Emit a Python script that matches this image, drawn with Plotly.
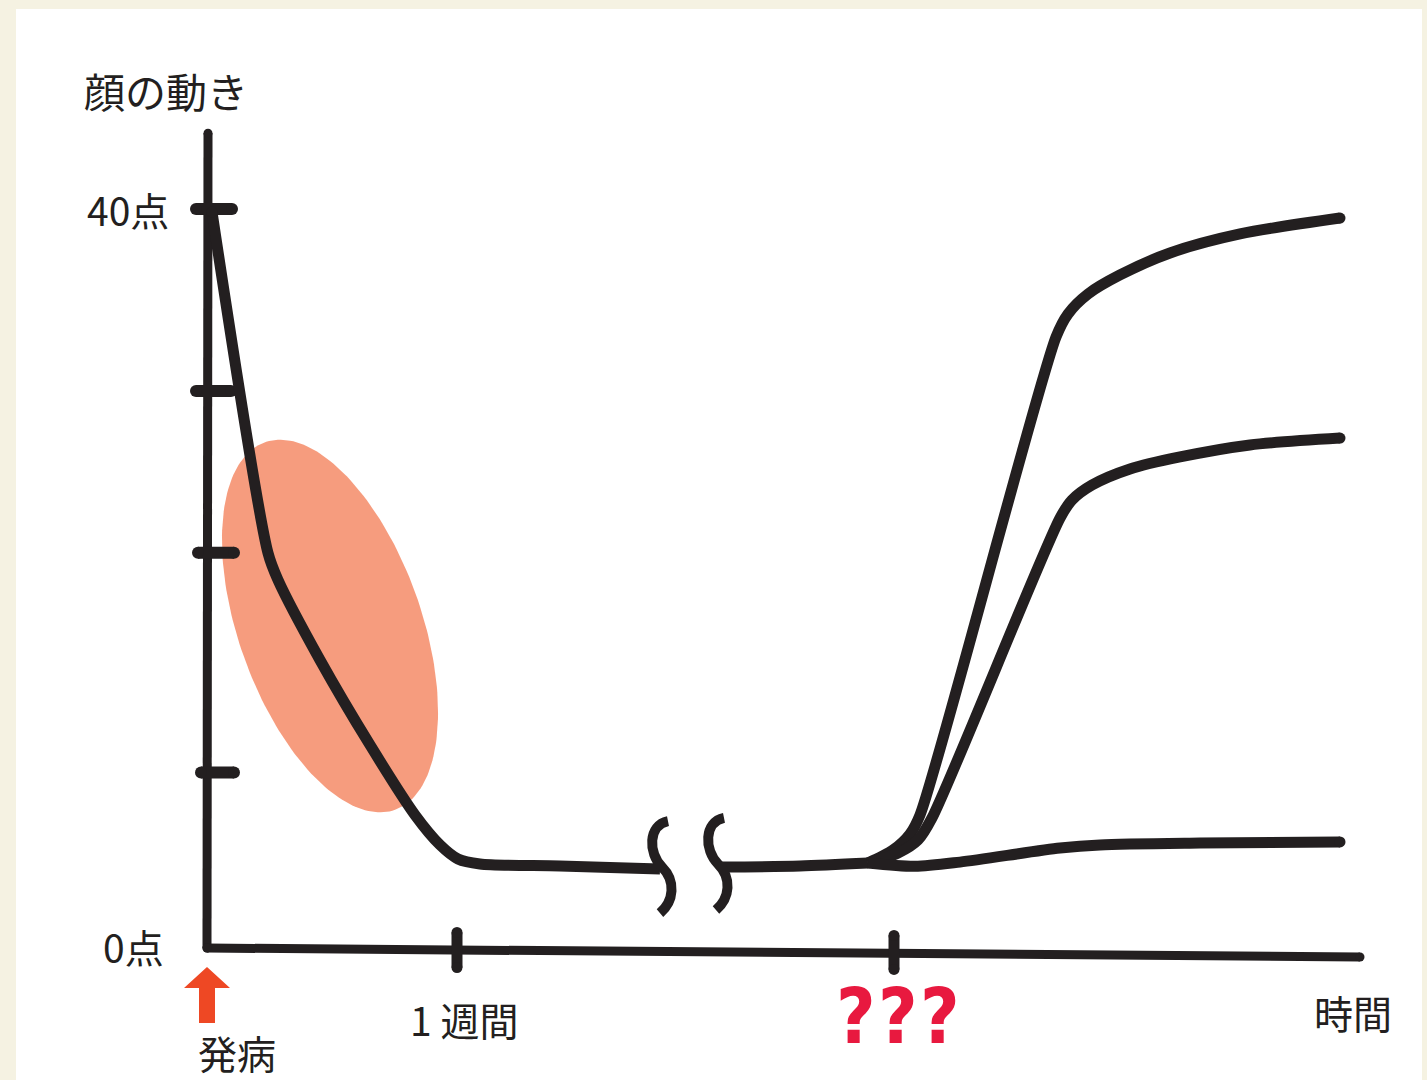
import numpy as np
import plotly.graph_objects as go

# x: time (1 = one week, break after ~1.8), y: facial movement score (0-40)
decline_x = [0.02, 0.244, 0.284, 0.452, 0.652, 0.832, 0.932, 1.004, 1.092, 1.412, 1.812]
decline_y = [39.84, 21.38, 19.92, 15.59, 10.99, 7.20, 5.58, 4.82, 4.55, 4.44, 4.28]

plateau_x = [2.06, 2.372, 2.644]
plateau_y = [4.38, 4.44, 4.60]

good_x = [2.644, 2.744, 2.812, 2.852, 3.396, 3.444, 3.524, 3.652, 3.852, 4.132, 4.532]
good_y = [4.60, 5.30, 6.17, 7.20, 33.07, 34.32, 35.40, 36.43, 37.62, 38.65, 39.51]

partial_x = [2.644, 2.764, 2.844, 2.90, 3.412, 3.46, 3.54, 3.692, 3.892, 4.172, 4.532]
partial_y = [4.60, 5.14, 5.85, 7.04, 23.27, 24.25, 25.06, 25.93, 26.58, 27.23, 27.60]

poor_x = [2.644, 2.832, 3.012, 3.412, 3.572, 3.972, 4.532]
poor_y = [4.60, 4.42, 4.65, 5.41, 5.58, 5.68, 5.74]

# hand-drawn axes
yaxis_x = [0.004, 0.0]
yaxis_y = [44.1, 0.0]
xaxis_x = [0.0, 4.612]
xaxis_y = [0.0, -0.49]

ytick_vals = [40, 30.15, 21.4, 9.5]
ytick_x0 = [-0.044, -0.044, -0.036, -0.024]
ytick_x1 = [0.10, 0.096, 0.108, 0.108]

xtick_vals = [1.0, 2.748]
xtick_y0 = [0.84, 0.68]
xtick_y1 = [-1.06, -1.16]

break_x = [1.82, 2.044]
break_y = [4.38, 4.55]

qmark_x = [2.596, 2.762, 2.93]

INK = "#231F20"
FONT = "Noto Sans CJK JP, Noto Sans, sans-serif"

fig = go.Figure()

# highlighted region (rotated ellipse, built in screen pixels then mapped)
PX_X, PX_Y = 250.0, 18.475
cx, cy, a, b, phi = 330, 626, 195, 91.5, np.radians(19.5)
t = np.linspace(0, 2 * np.pi, 200)
u, v = a * np.cos(t), b * np.sin(t)
ex = cx + u * np.sin(phi) + v * np.cos(phi)
ey = cy + u * np.cos(phi) - v * np.sin(phi)
fig.add_trace(go.Scatter(x=(ex - 207) / PX_X, y=(948 - ey) / PX_Y, mode="lines",
                         fill="toself", fillcolor="#F69C7E", line=dict(width=0),
                         hoverinfo="skip"))

# axes
for xs, ys in [(yaxis_x, yaxis_y), (xaxis_x, xaxis_y)]:
    fig.add_trace(go.Scatter(x=xs, y=ys, mode="lines+markers",
                             line=dict(color=INK, width=9),
                             marker=dict(color=INK, size=9)))

for val, x0, x1 in zip(ytick_vals, ytick_x0, ytick_x1):
    fig.add_trace(go.Scatter(x=[x0, x1], y=[val, val], mode="lines+markers",
                             line=dict(color=INK, width=12),
                             marker=dict(color=INK, size=12)))

for val, y0, y1 in zip(xtick_vals, xtick_y0, xtick_y1):
    fig.add_trace(go.Scatter(x=[val, val], y=[y0, y1], mode="lines+markers",
                             line=dict(color=INK, width=11),
                             marker=dict(color=INK, size=11)))

# curves
for xs, ys in [(decline_x, decline_y), (plateau_x, plateau_y),
               (good_x, good_y), (partial_x, partial_y), (poor_x, poor_y)]:
    fig.add_trace(go.Scatter(x=xs, y=ys, mode="lines",
                             line=dict(color=INK, width=11, shape="spline", smoothing=0.8)))

ends_x = [decline_x[0], good_x[-1], partial_x[-1], poor_x[-1]]
ends_y = [decline_y[0], good_y[-1], partial_y[-1], poor_y[-1]]
fig.add_trace(go.Scatter(x=ends_x, y=ends_y, mode="markers",
                         marker=dict(color=INK, size=11)))

# break marks
for bx, by in zip(break_x, break_y):
    fig.add_shape(type="path", xref="x", yref="y", xsizemode="pixel", ysizemode="pixel",
                  xanchor=bx, yanchor=by,
                  path="M 6,46 C -14,42 -14,14 0,0 C 14,-14 12,-34 -2,-46",
                  line=dict(color=INK, width=10))

# onset arrow
fig.add_shape(type="path", xref="x", yref="y", xsizemode="pixel", ysizemode="pixel",
              xanchor=0.0, yanchor=(948 - 967) / PX_Y,
              path="M 0,0 L 23,-21 L 8,-21 L 8,-56 L -8,-56 L -8,-21 L -23,-21 Z",
              fillcolor="#EE4824", line=dict(width=0))

labels = [
    ("顔の動き", -0.164, 46.44, "center", 41),
    ("40点", -0.146, 40.0, "right", 39),
    ("0点", -0.166, 0.1, "right", 39),
    ("1 週間", 1.028, -3.84, "center", 39),
    ("発病", 0.12, -5.63, "center", 39),
    ("時間", 4.584, -3.46, "center", 39),
]
for txt, x, y, anchor, size in labels:
    fig.add_annotation(x=x, y=y, text=txt, showarrow=False, xanchor=anchor, yanchor="middle",
                       font=dict(family=FONT, size=size, color=INK))

for qx in qmark_x:
    fig.add_annotation(x=qx, y=-3.7, text="?", showarrow=False,
                       font=dict(family="DejaVu Sans Condensed, Liberation Sans Narrow, sans-serif",
                                 size=76, color="#E8193F", weight="bold"))

fig.update_layout(
    width=1427, height=1080,
    margin=dict(l=16, r=5, t=9, b=0),
    paper_bgcolor="#F5F2E2", plot_bgcolor="white",
    showlegend=False,
    xaxis=dict(range=[(16 - 207) / PX_X, (1422 - 207) / PX_X], visible=False, fixedrange=True),
    yaxis=dict(range=[(948 - 1080) / PX_Y, (948 - 9) / PX_Y], visible=False, fixedrange=True),
)

fig.write_html("out.html", config={"displayModeBar": False},
               post_script="document.body.style.margin='0';document.body.style.background='#F5F2E2';")
